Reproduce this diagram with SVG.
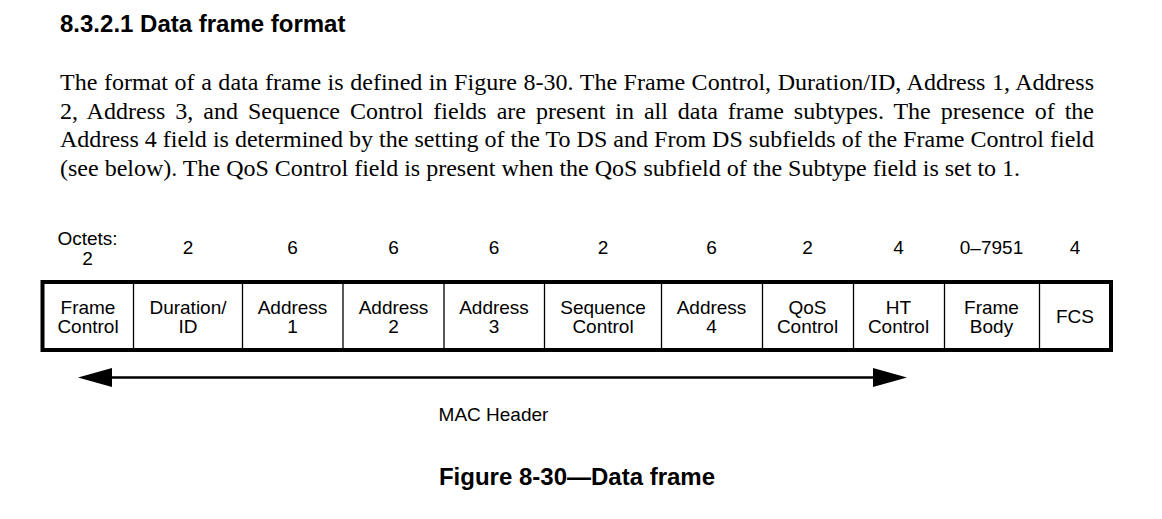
<svg xmlns="http://www.w3.org/2000/svg" width="1162" height="519" viewBox="0 0 1162 519">
  <defs>
    <style>
      .title { font-family: "Liberation Sans", Arial, sans-serif; font-weight: bold; font-size: 24px; fill: #000; }
      .body { font-family: "Liberation Serif", "Times New Roman", serif; font-size: 24px; fill: #000; }
      .lbl { font-family: "Liberation Sans", Arial, sans-serif; font-size: 19px; fill: #000; text-anchor: middle; }
      .div { stroke: #000; stroke-width: 1.3; fill: none; }
      .frame { stroke: #000; stroke-width: 4; fill: #fff; }
      .conn { stroke: #000; stroke-width: 2.5; fill: none; }
    </style>
    <marker id="head" markerUnits="userSpaceOnUse" markerWidth="36" markerHeight="20" refX="0" refY="9.5" orient="auto-start-reverse">
      <path d="M0,0 L34,9.5 L0,19 Z" fill="#000"/>
    </marker>
  </defs>
  <rect width="1162" height="519" fill="#fff"/>

  <text class="title" x="60" y="32">8.3.2.1 Data frame format</text>

  <g id="paragraph">
    <text class="body" x="60" y="90" word-spacing="0.5" textLength="1034" lengthAdjust="spacing">The format of a data frame is defined in Figure 8-30. The Frame Control, Duration/ID, Address 1, Address</text>
    <text class="body" x="60" y="118.5" word-spacing="3.9" textLength="1034" lengthAdjust="spacing">2, Address 3, and Sequence Control fields are present in all data frame subtypes. The presence of the</text>
    <text class="body" x="60" y="147" textLength="1034" lengthAdjust="spacing">Address 4 field is determined by the setting of the To DS and From DS subfields of the Frame Control field</text>
    <text class="body" x="60" y="175.5">(see below). The QoS Control field is present when the QoS subfield of the Subtype field is set to 1.</text>
  </g>

  <rect id="frame-outline" class="frame" x="42.5" y="282" width="1068.5" height="68"/>

  <g id="f-frame-control">
    <text class="lbl" x="87.5" y="245">Octets:</text>
    <text class="lbl" x="87.5" y="265">2</text>
    <text class="lbl" x="88" y="314">Frame</text>
    <text class="lbl" x="88" y="333">Control</text>
  </g>
  <g id="f-duration">
    <line class="div" x1="133.5" y1="284" x2="133.5" y2="348"/>
    <text class="lbl" x="188" y="254">2</text>
    <text class="lbl" x="188" y="314">Duration/</text>
    <text class="lbl" x="188" y="333">ID</text>
  </g>
  <g id="f-address1">
    <line class="div" x1="242.5" y1="284" x2="242.5" y2="348"/>
    <text class="lbl" x="292.5" y="254">6</text>
    <text class="lbl" x="292.5" y="314">Address</text>
    <text class="lbl" x="292.5" y="333">1</text>
  </g>
  <g id="f-address2">
    <line class="div" x1="343" y1="284" x2="343" y2="348"/>
    <text class="lbl" x="393.5" y="254">6</text>
    <text class="lbl" x="393.5" y="314">Address</text>
    <text class="lbl" x="393.5" y="333">2</text>
  </g>
  <g id="f-address3">
    <line class="div" x1="444" y1="284" x2="444" y2="348"/>
    <text class="lbl" x="494" y="254">6</text>
    <text class="lbl" x="494" y="314">Address</text>
    <text class="lbl" x="494" y="333">3</text>
  </g>
  <g id="f-sequence">
    <line class="div" x1="544.5" y1="284" x2="544.5" y2="348"/>
    <text class="lbl" x="603" y="254">2</text>
    <text class="lbl" x="603" y="314">Sequence</text>
    <text class="lbl" x="603" y="333">Control</text>
  </g>
  <g id="f-address4">
    <line class="div" x1="661.5" y1="284" x2="661.5" y2="348"/>
    <text class="lbl" x="711.5" y="254">6</text>
    <text class="lbl" x="711.5" y="314">Address</text>
    <text class="lbl" x="711.5" y="333">4</text>
  </g>
  <g id="f-qos">
    <line class="div" x1="762.5" y1="284" x2="762.5" y2="348"/>
    <text class="lbl" x="807.5" y="254">2</text>
    <text class="lbl" x="807.5" y="314">QoS</text>
    <text class="lbl" x="807.5" y="333">Control</text>
  </g>
  <g id="f-ht">
    <line class="div" x1="853.5" y1="284" x2="853.5" y2="348"/>
    <text class="lbl" x="898.5" y="254">4</text>
    <text class="lbl" x="898.5" y="314">HT</text>
    <text class="lbl" x="898.5" y="333">Control</text>
  </g>
  <g id="f-body">
    <line class="div" x1="944.5" y1="284" x2="944.5" y2="348"/>
    <text class="lbl" x="991.5" y="254">0–7951</text>
    <text class="lbl" x="991.5" y="314">Frame</text>
    <text class="lbl" x="991.5" y="333">Body</text>
  </g>
  <g id="f-fcs">
    <line class="div" x1="1039.5" y1="284" x2="1039.5" y2="348"/>
    <text class="lbl" x="1075" y="254">4</text>
    <text class="lbl" x="1075" y="323">FCS</text>
  </g>

  <g id="connectors">
    <line class="conn" x1="112" y1="377.5" x2="873" y2="377.5" marker-start="url(#head)" marker-end="url(#head)"/>
  </g>
  <text class="lbl" x="493.5" y="421">MAC Header</text>

  <text class="title" x="577" y="485" text-anchor="middle">Figure 8-30—Data frame</text>
</svg>
